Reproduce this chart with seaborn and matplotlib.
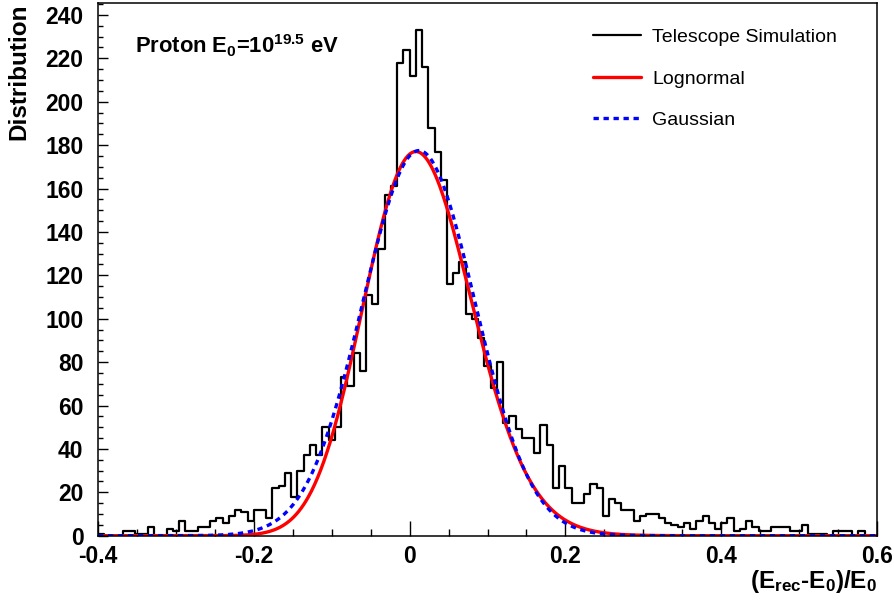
import numpy as np
import pandas as pd
import matplotlib
matplotlib.use("Agg")
import matplotlib.pyplot as plt
import seaborn as sns
from matplotlib.lines import Line2D
from matplotlib.ticker import MultipleLocator

# ---------------- data ----------------
x_min, x_max, n_bins = -0.4, 0.6, 125
counts = [
    1, 0, 0, 0, 2, 2, 1, 1, 4, 0,
    0, 3, 2, 7, 2, 2, 4, 4, 7, 8,
    6, 9, 12, 11, 7, 12, 12, 8, 22, 23,
    29, 18, 30, 37, 42, 37, 50, 44, 50, 73,
    69, 84, 76, 111, 107, 132, 157, 161, 218, 224,
    212, 233, 216, 188, 177, 164, 116, 121, 126, 102,
    100, 91, 78, 68, 80, 52, 55, 49, 45, 45,
    38, 51, 42, 22, 32, 22, 15, 15, 19, 24,
    22, 9, 17, 15, 12, 12, 7, 9, 10, 10,
    8, 6, 5, 4, 6, 3, 7, 9, 6, 3,
    6, 8, 2, 3, 7, 4, 2, 2, 4, 4,
    4, 2, 2, 5, 1, 1, 1, 0, 2, 2,
    2, 0, 2, 0, 0,
]
# fit parameters
gauss_amp, gauss_mean, gauss_sigma = 177.5, 0.012, 0.072
logn_amp, logn_mu, logn_sigma = 178.9, 0.0128, 0.0688

legend_labels = ["Telescope Simulation", "Lognormal", "Gaussian"]
x_ticks = [-0.4, -0.2, 0, 0.2, 0.4, 0.6]
x_tick_labels = ["-0.4", "-0.2", "0", "0.2", "0.4", "0.6"]
y_ticks = [0, 20, 40, 60, 80, 100, 120, 140, 160, 180, 200, 220, 240]

# ---------------- build frames ----------------
edges = np.linspace(x_min, x_max, n_bins + 1)
centers = 0.5 * (edges[:-1] + edges[1:])
hist_df = pd.DataFrame({"x": centers, "w": counts})

xs = np.linspace(x_min, x_max, 1001)
gauss = gauss_amp * np.exp(-(xs - gauss_mean) ** 2 / (2 * gauss_sigma ** 2))
logn = logn_amp / (1 + xs) * np.exp(-(np.log(1 + xs) - logn_mu) ** 2 / (2 * logn_sigma ** 2))
curve_df = pd.DataFrame({"x": xs, "gauss": gauss, "logn": logn})

# ---------------- style ----------------
sns.set_theme(style="white", rc={
    "text.color": "black", "axes.labelcolor": "black",
    "xtick.color": "black", "ytick.color": "black",
    "axes.edgecolor": "black",
    "xtick.bottom": True, "ytick.left": True,
})
plt.rcParams["font.family"] = ["Liberation Sans", "DejaVu Sans"]
plt.rcParams["mathtext.fontset"] = "custom"
plt.rcParams["mathtext.rm"] = "Liberation Sans:bold"
plt.rcParams["mathtext.it"] = "Liberation Sans:bold"
plt.rcParams["mathtext.bf"] = "Liberation Sans:bold"

fig = plt.figure(figsize=(8.95, 6.05), dpi=100)
ax = fig.add_axes([98 / 895, 1 - 535.7 / 605, 779 / 895, 532.7 / 605])

sns.histplot(data=hist_df, x="x", weights="w", bins=n_bins, binrange=(x_min, x_max),
             element="step", fill=False, color="black", linewidth=1.6, ax=ax)
sns.lineplot(data=curve_df, x="x", y="logn", color="#ff0000", linewidth=2.4, ax=ax)
sns.lineplot(data=curve_df, x="x", y="gauss", color="#0000ff", linewidth=2.4,
             linestyle=(0, (1.6, 1.4)), ax=ax)

ax.set_xlim(x_min, x_max)
ax.set_ylim(0, 245.5)

ax.set_xticks(x_ticks)
ax.set_xticklabels(x_tick_labels)
ax.set_yticks(y_ticks)
ax.xaxis.set_minor_locator(MultipleLocator(0.05))
ax.yaxis.set_minor_locator(MultipleLocator(5))
ax.tick_params(axis="x", which="major", direction="in", length=11, width=1,
               labelsize=16.5, pad=6.5, bottom=True, top=False, color="black")
ax.tick_params(axis="x", which="minor", direction="in", length=5, width=1,
               bottom=True, top=False, color="black")
ax.tick_params(axis="y", which="major", direction="in", length=7.5, width=1,
               labelsize=16.5, pad=10.5, left=True, right=False, color="black")
ax.tick_params(axis="y", which="minor", direction="in", length=3.8, width=1,
               left=True, right=False, color="black")
for lab in ax.get_xticklabels() + ax.get_yticklabels():
    lab.set_fontweight("bold")
    lab.set_color("black")

for sp in ax.spines.values():
    sp.set_color("black")
    sp.set_linewidth(1.1)

ax.set_xlabel(r"(E$_{\mathbf{rec}}$-E$_{\mathbf{0}}$)/E$_{\mathbf{0}}$",
              fontsize=17.5, fontweight="bold", loc="right", color="black")
ax.xaxis.set_label_coords(1.0, -0.06)
ax.set_ylabel("Distribution", fontsize=17.5, fontweight="bold", loc="top", color="black")
ax.yaxis.set_label_coords(-0.087, 1.0)

ax.text(0.0475, 0.919, r"Proton E$_{\mathbf{0}}$=10$^{\mathbf{19.5}}$ eV",
        transform=ax.transAxes, fontsize=15.8, fontweight="bold",
        ha="left", va="center", color="black")

handles = [
    Line2D([], [], color="black", linewidth=1.6),
    Line2D([], [], color="#ff0000", linewidth=2.4),
    Line2D([], [], color="#0000ff", linewidth=2.4, linestyle=(0, (1.6, 1.4))),
]
leg = ax.legend(handles, legend_labels, loc="upper left", bbox_to_anchor=(0.635, 0.952),
                frameon=False, fontsize=14, handlelength=2.5, handletextpad=0.55,
                labelspacing=1.22, borderpad=0, borderaxespad=0)
for t in leg.get_texts():
    t.set_color("black")

fig.savefig("out.png", dpi=100, facecolor="white")
